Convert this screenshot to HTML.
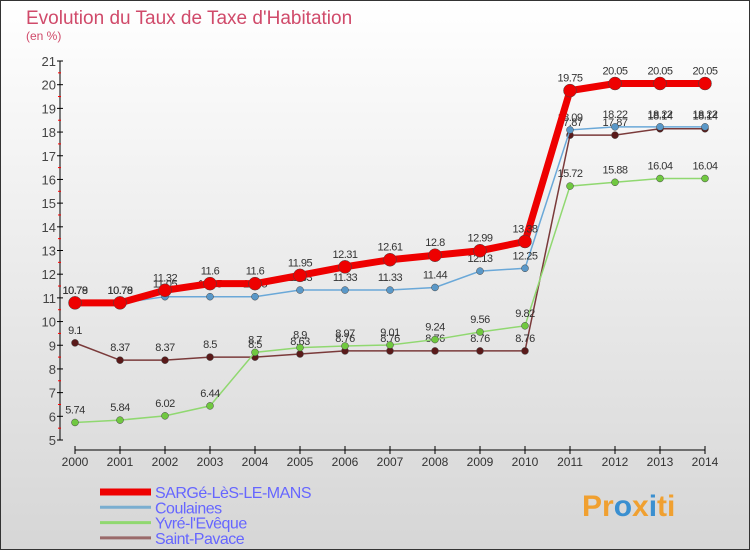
<!DOCTYPE html>
<html><head><meta charset="utf-8"><style>
body{margin:0;width:750px;height:550px;overflow:hidden;font-family:"Liberation Sans",sans-serif}
</style></head><body>
<svg id="c" width="750" height="550" xmlns="http://www.w3.org/2000/svg">
<defs><linearGradient id="bg" x1="0" y1="0" x2="0" y2="1"><stop offset="0" stop-color="#ffffff"/><stop offset="1" stop-color="#d6d6d6"/></linearGradient></defs>
<rect x="0.5" y="0.5" width="749" height="549" fill="url(#bg)" stroke="#333"/>
<text x="26" y="24" font-size="19" fill="#d04a6a">Evolution du Taux de Taxe d'Habitation</text>
<text x="26" y="40" font-size="12" fill="#d04a6a">(en %)</text>
<g id="axes"></g><g id="series"></g><g id="legend"></g>
<text x="582" y="516" font-size="30" font-weight="bold" fill="#f0a030">Pr<tspan fill="#3a8fd0">o</tspan>x<tspan fill="#3a8fd0">i</tspan>ti</text>
</svg>
<script>
const years=["2000","2001","2002","2003","2004","2005","2006","2007","2008","2009","2010","2011","2012","2013","2014"];
const yTicks=[5,6,7,8,9,10,11,12,13,14,15,16,17,18,19,20,21];
const sarge=[10.79,10.79,11.32,11.6,11.6,11.95,12.31,12.61,12.8,12.99,13.38,19.75,20.05,20.05,20.05];
const coulaines=[10.78,10.78,11.05,11.05,11.05,11.33,11.33,11.33,11.44,12.13,12.25,18.09,18.22,18.22,18.22];
const yvre=[5.74,5.84,6.02,6.44,8.7,8.9,8.97,9.01,9.24,9.56,9.82,15.72,15.88,16.04,16.04];
const pavace=[9.1,8.37,8.37,8.5,8.5,8.63,8.76,8.76,8.76,8.76,8.76,17.87,17.87,18.14,18.14];
const names=["SARGé-LèS-LE-MANS","Coulaines","Yvré-l'Evêque","Saint-Pavace"];
const NS="http://www.w3.org/2000/svg";
const X=i=>75+i*45, Y=v=>440-(v-5)*(379/16);
function mk(t,a,p){const e=document.createElementNS(NS,t);for(const k in a)e.setAttribute(k,a[k]);p.appendChild(e);return e;}
const ax=document.getElementById('axes');
let l=mk('line',{x1:60,y1:61,x2:60,y2:440,stroke:'#000'},ax);


l=mk('line',{x1:75,y1:450,x2:705,y2:450,stroke:'#000'},ax);


yTicks.forEach(v=>{
 mk('line',{x1:57,y1:Y(v),x2:63,y2:Y(v),stroke:'#000'},ax);
 if(v<21) mk('line',{x1:58,y1:Y(v+0.5),x2:61,y2:Y(v+0.5),stroke:'#f00'},ax);
 const t=mk('text',{x:56,y:Y(v)+5,'text-anchor':'end','font-size':13,fill:'#444'},ax);t.textContent=v;
 
 
});
years.forEach((y,i)=>{
 mk('line',{x1:X(i),y1:446,x2:X(i),y2:454,stroke:'#000'},ax);
 const t=mk('text',{x:X(i),y:466,'text-anchor':'middle','font-size':12,fill:'#333'},ax);t.textContent=y;
 
 
});
const sg=document.getElementById('series');
const cfg=[[pavace,'#7a3a3a','#5a1a1a',1.5,3.5],[yvre,'#90d870','#70c840',1.5,3.5],[coulaines,'#6aa8d8','#5a98c8',1.5,3.5],[sarge,'#ee0000','#ee0000',7,6.5]];
const keys=['saint-pavace','yvre','coulaines','sarge'];
cfg.forEach((c,k)=>{
 const g=mk('g',{},sg);
 
 
 mk('polyline',{points:c[0].map((v,i)=>X(i)+','+Y(v)).join(' '),fill:'none',stroke:c[1],'stroke-width':c[3]},g);
 c[0].forEach((v,i)=>{
  const p=mk('circle',{cx:X(i),cy:Y(v),r:c[4],fill:c[2],stroke:'#444','stroke-width':0.5},g);
  
  
  const t=mk('text',{x:X(i),y:Y(v)-9,'text-anchor':'middle','font-size':11,fill:'#333','letter-spacing':'-0.5'},g);t.textContent=v;
  
  
 });
});
const lg=document.getElementById('legend');
const lc=[['#ee0000',7],['#7aaed0',3],['#90d870',3],['#9a6a6a',3]];
names.forEach((n,i)=>{
 const y=492+i*15.3;
 const g=mk('g',{},lg);
 
 
 mk('line',{x1:100,y1:y,x2:151,y2:y,stroke:lc[i][0],'stroke-width':lc[i][1]},g);
 const t=mk('text',{x:155,y:y+6,'font-size':16,fill:'#6666ff','letter-spacing':'-0.5'},g);t.textContent=n;
});
</script>
</body></html>
